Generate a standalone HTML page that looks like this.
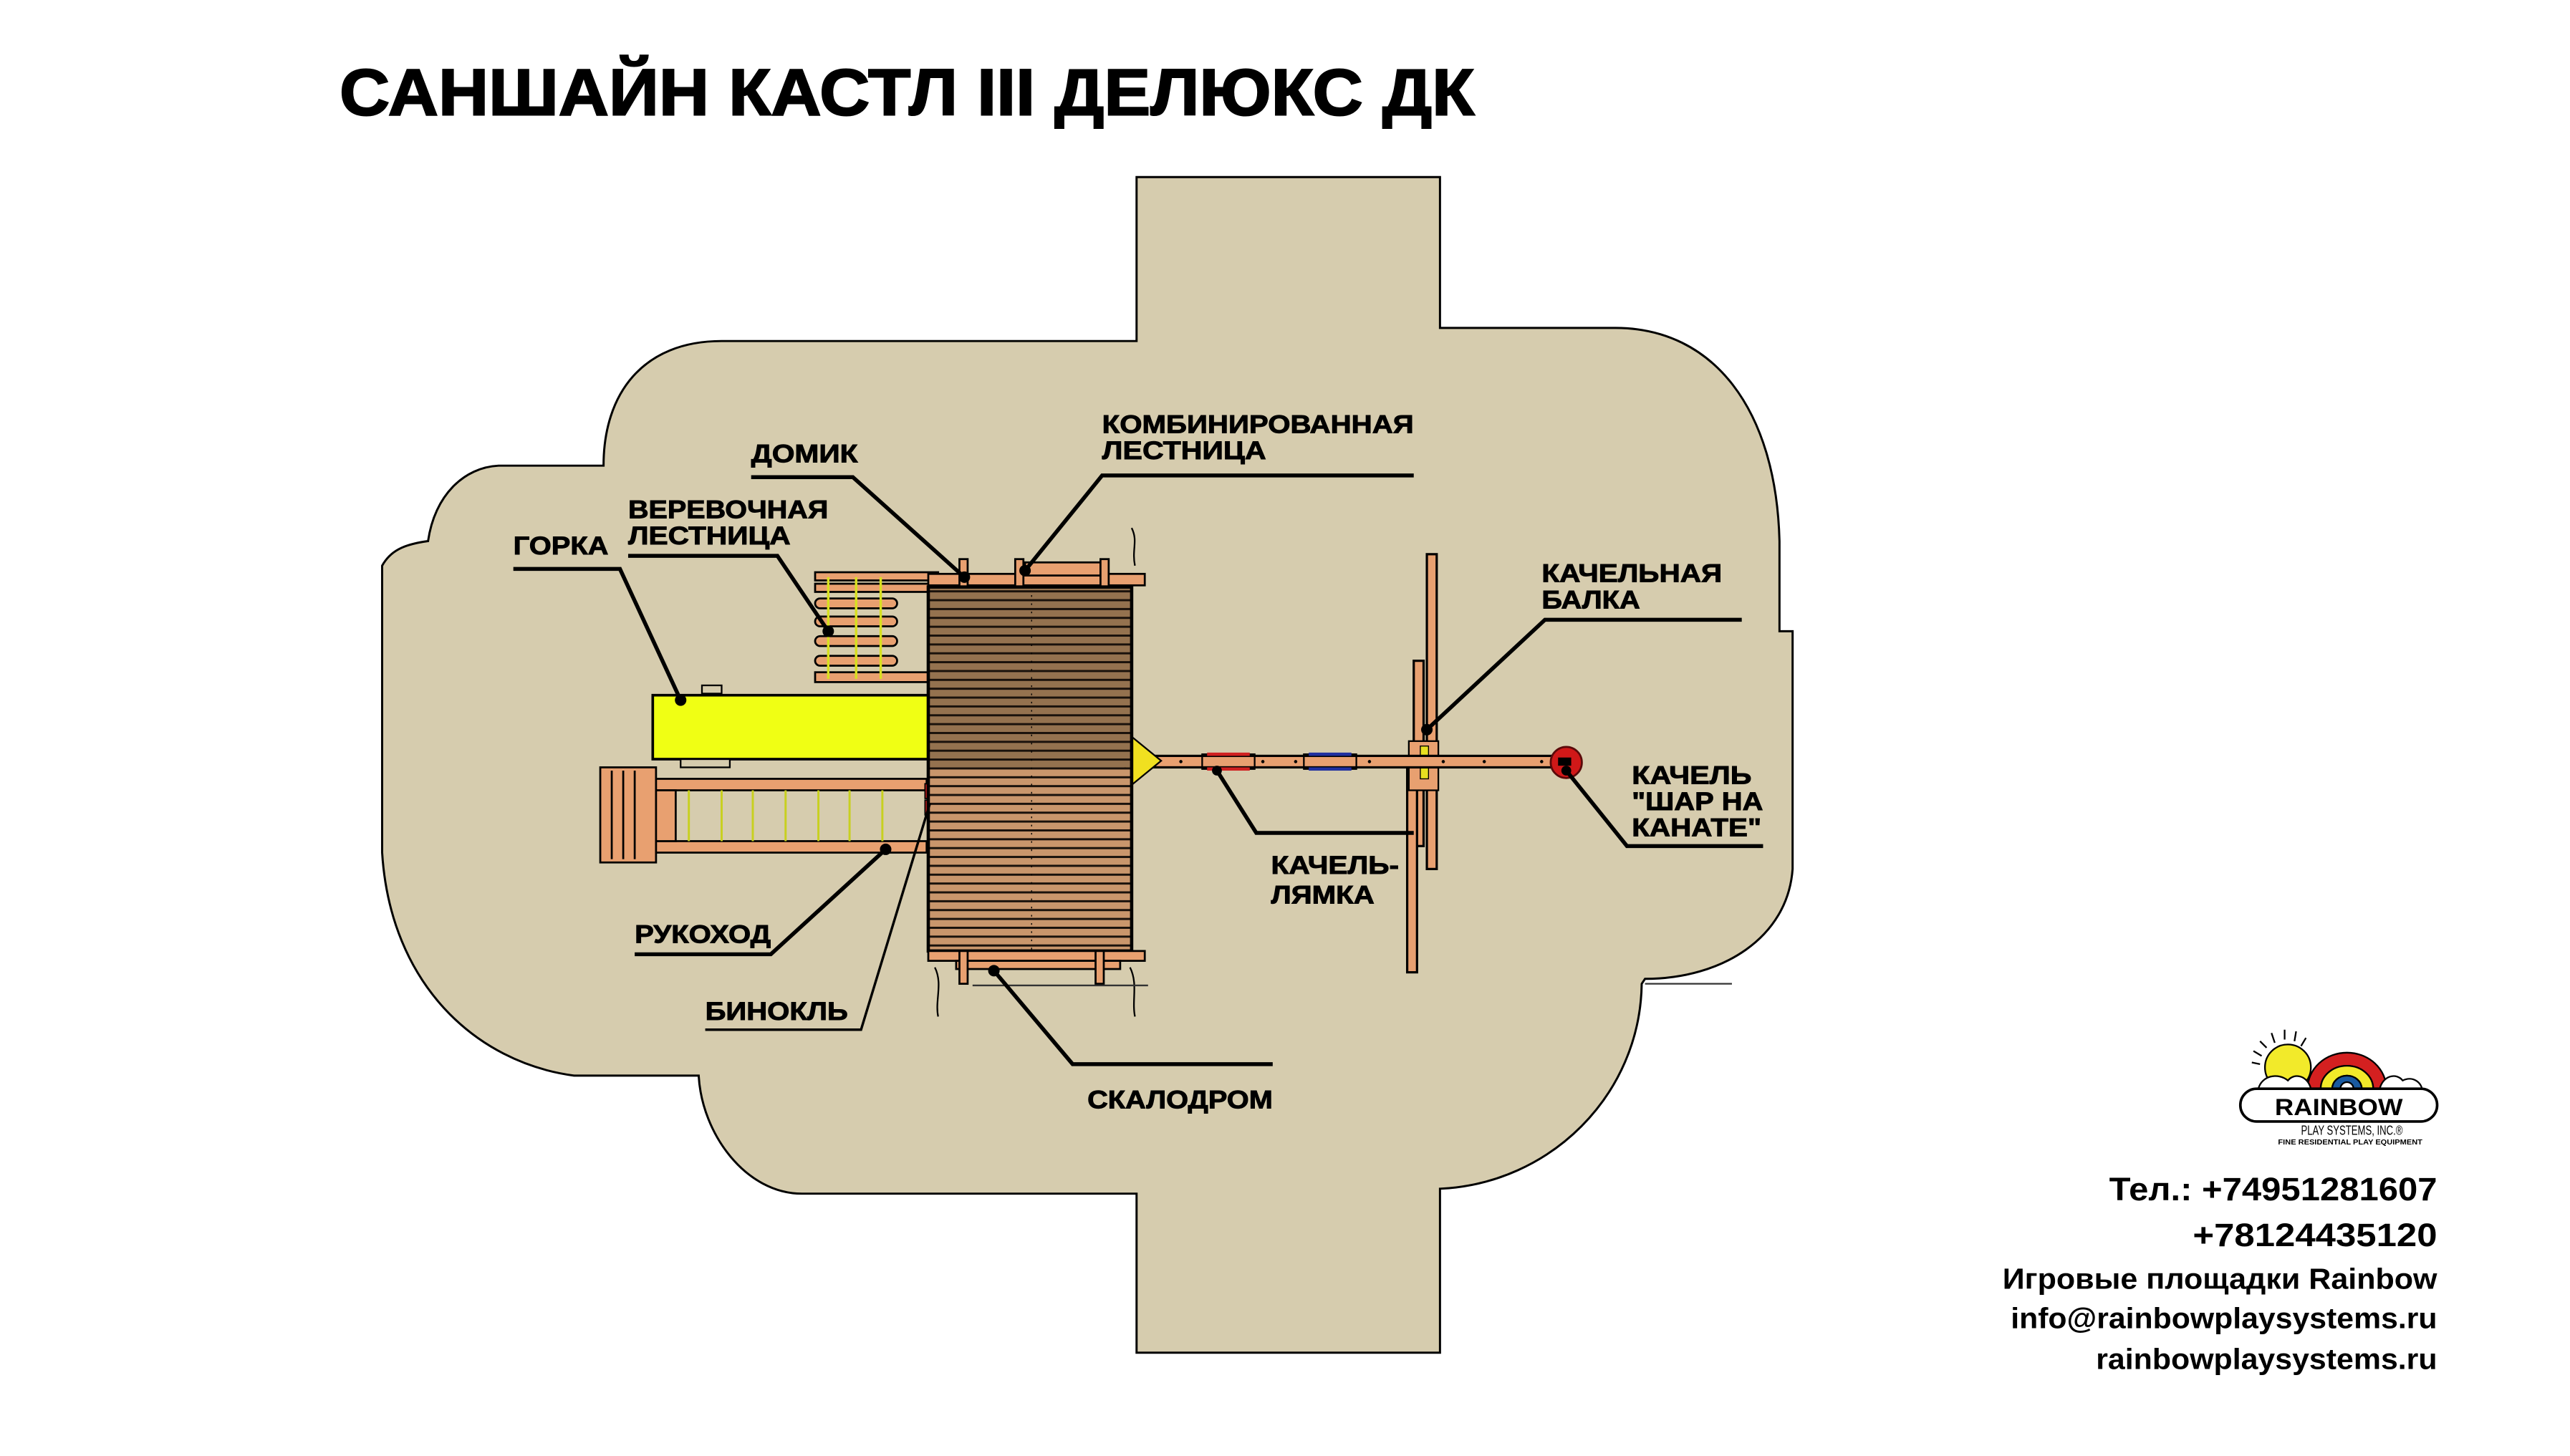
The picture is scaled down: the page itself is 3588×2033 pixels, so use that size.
<!DOCTYPE html>
<html><head><meta charset="utf-8">
<style>
html,body{margin:0;padding:0;background:#fff;}
svg{display:block;}
text{font-family:"Liberation Sans","DejaVu Sans",sans-serif;font-weight:bold;fill:#000;}
</style></head>
<body>
<svg width="3588" height="2033" viewBox="0 0 1567 888" preserveAspectRatio="none" xmlns="http://www.w3.org/2000/svg">
<defs>
<pattern id="pl1" patternUnits="userSpaceOnUse" x="0" y="360" width="10" height="5.4">
<rect width="10" height="5.4" fill="#94724f"/><rect width="10" height="1.3" fill="#1a120c"/>
</pattern>
<pattern id="pl2" patternUnits="userSpaceOnUse" x="0" y="468" width="10" height="5.4">
<rect width="10" height="5.4" fill="#c9966c"/><rect width="10" height="1.3" fill="#1a120c"/>
</pattern>
</defs>
<rect width="1567" height="888" fill="#fff"/>
<!-- ground -->
<path d="M693,108 L878,108 L878,200 L985,200 C1045,200 1083,250 1085,330 L1085,385 L1093,385 L1093,530 C1090,572 1050,597 1003,597 L1001,600 C1000,668 945,722 878,725 L878,825 L693,825 L693,728 L489,728 C455,728 428,692 426,656 L350,656 C290,648 238,600 233,520 L233,345 C238,336 246,332 261,330 C265,302 283,285 304,284 L368,284 C368,240 392,208 440,208 L693,208 Z" fill="#d6ccae" stroke="#000" stroke-width="1.3"/>
<line x1="1003" y1="600" x2="1056" y2="600" stroke="#333" stroke-width="1"/>

<!-- title -->
<text x="207" y="70" font-size="40" stroke="#000" stroke-width="0.9" textLength="692" lengthAdjust="spacingAndGlyphs">САНШАЙН КАСТЛ III ДЕЛЮКС ДК</text>

<!-- swing beam A-frame -->
<rect x="870" y="338" width="6" height="192" fill="#e8a070" stroke="#000" stroke-width="1.4"/>
<rect x="862" y="403" width="6" height="113" fill="#e8a070" stroke="#000" stroke-width="1.4"/>
<rect x="858" y="465" width="6" height="128" fill="#e8a070" stroke="#000" stroke-width="1.4"/>
<rect x="859" y="452" width="18" height="30" fill="#e8a070" stroke="#000" stroke-width="1"/>
<rect x="866" y="455" width="5" height="7" fill="#e8e020" stroke="#000" stroke-width="0.6"/>
<rect x="866" y="468" width="5" height="7" fill="#e8e020" stroke="#000" stroke-width="0.6"/>
<!-- swing beam horizontal -->
<rect x="693" y="461" width="262" height="7" fill="#e8a070" stroke="#000" stroke-width="1.4"/>
<g fill="#000"><circle cx="705" cy="464.5" r="1"/><circle cx="720" cy="464.5" r="1"/><circle cx="770" cy="464.5" r="1"/><circle cx="790" cy="464.5" r="1"/><circle cx="835" cy="464.5" r="1"/><circle cx="880" cy="464.5" r="1"/><circle cx="905" cy="464.5" r="1"/><circle cx="940" cy="464.5" r="1"/></g>
<!-- strap swing -->
<rect x="733" y="460" width="32" height="9" fill="none" stroke="#000" stroke-width="1"/>
<rect x="736" y="459" width="26" height="2" fill="#d02020"/><rect x="736" y="468" width="26" height="2" fill="#d02020"/>
<rect x="795" y="460" width="32" height="9" fill="none" stroke="#000" stroke-width="1"/>
<rect x="798" y="459" width="26" height="2" fill="#2030a0"/><rect x="798" y="468" width="26" height="2" fill="#2030a0"/>
<!-- ball swing -->
<circle cx="955" cy="465" r="9.5" fill="#d01818" stroke="#5a0a0a" stroke-width="1.2"/>
<rect x="950" y="462" width="8" height="5" fill="#000"/>
<!-- yellow triangle -->
<path d="M686,446 L708,464 L686,482 Z" fill="#f0e020" stroke="#000" stroke-width="1"/>

<!-- rope ladder -->
<g stroke="#000" stroke-width="1.2">
<rect x="497" y="349" width="75" height="5" fill="#e8a070"/>
<rect x="497" y="356" width="75" height="5" fill="#e8a070"/>
<rect x="497" y="365" width="50" height="6" rx="3" fill="#e8a070"/>
<rect x="497" y="376" width="50" height="6" rx="3" fill="#e8a070"/>
<rect x="497" y="388" width="50" height="6" rx="3" fill="#e8a070"/>
<rect x="497" y="400" width="50" height="6" rx="3" fill="#e8a070"/>
<rect x="497" y="410" width="70" height="6" fill="#e8a070"/>
</g>
<g stroke="#d8e020" stroke-width="1.5"><line x1="505" y1="352" x2="505" y2="414"/><line x1="522" y1="352" x2="522" y2="414"/><line x1="537" y1="352" x2="537" y2="414"/></g>

<!-- slide -->
<rect x="428" y="418" width="12" height="5" fill="#d6ccae" stroke="#000" stroke-width="1"/>
<rect x="398" y="424" width="170" height="39" fill="#f0ff14" stroke="#000" stroke-width="1.6"/>
<rect x="415" y="463" width="30" height="5" fill="#d6ccae" stroke="#000" stroke-width="1"/>

<!-- monkey bars -->
<g stroke="#000" stroke-width="1.2">
<rect x="366" y="468" width="34" height="58" fill="#e8a070"/>
<line x1="373" y1="470" x2="373" y2="524"/><line x1="380" y1="470" x2="380" y2="524"/><line x1="387" y1="470" x2="387" y2="524"/>
<rect x="400" y="475" width="165" height="7" fill="#e8a070"/>
<rect x="400" y="513" width="165" height="7" fill="#e8a070"/>
<rect x="400" y="482" width="12" height="31" fill="#e8a070"/>
</g>
<g stroke="#c8d020" stroke-width="1.3"><line x1="420" y1="482" x2="420" y2="513"/><line x1="440" y1="482" x2="440" y2="513"/><line x1="459" y1="482" x2="459" y2="513"/><line x1="479" y1="482" x2="479" y2="513"/><line x1="499" y1="482" x2="499" y2="513"/><line x1="518" y1="482" x2="518" y2="513"/><line x1="538" y1="482" x2="538" y2="513"/></g>
<!-- binoculars -->
<rect x="564" y="478" width="8" height="9" fill="#d02020" stroke="#000" stroke-width="0.8"/>
<rect x="564" y="488" width="8" height="9" fill="#d02020" stroke="#000" stroke-width="0.8"/>

<!-- top frame -->
<g stroke="#000" stroke-width="1.2">
<rect x="566" y="350" width="132" height="7" fill="#e8a070"/>
<rect x="625" y="343" width="46" height="8" fill="#e8a070"/>
<rect x="585" y="341" width="5" height="18" fill="#e8a070"/>
<rect x="619" y="341" width="5" height="18" fill="#e8a070"/>
<rect x="671" y="341" width="5" height="18" fill="#e8a070"/>
</g>
<!-- deck -->
<rect x="566" y="358" width="124" height="110" fill="url(#pl1)"/>
<rect x="566" y="468" width="124" height="112" fill="url(#pl2)"/>
<rect x="566" y="358" width="124" height="222" fill="none" stroke="#000" stroke-width="2"/>
<line x1="629" y1="358" x2="629" y2="580" stroke="#000" stroke-width="0.6" stroke-dasharray="1,4"/>
<!-- bottom frame -->
<g stroke="#000" stroke-width="1.2">
<rect x="566" y="580" width="132" height="6" fill="#e8a070"/>
<rect x="583" y="586" width="100" height="5" fill="#e8a070"/>
<rect x="585" y="580" width="5" height="20" fill="#e8a070"/>
<rect x="668" y="580" width="5" height="20" fill="#e8a070"/>
</g>
<g stroke="#000" stroke-width="1" fill="none">
<path d="M570,590 C575,600 570,610 572,620"/><path d="M689,590 C694,600 690,610 692,620"/>
<path d="M692,345 C690,335 694,330 690,322"/>
</g>
<line x1="593" y1="601" x2="700" y2="601" stroke="#333" stroke-width="1"/>

<!-- leaders -->
<g stroke="#000" stroke-width="2.4" fill="none">
<polyline points="313,347 378,347 415,427"/>
<polyline points="383,339 474,339 505,385"/>
<polyline points="458,291 520,291 588,352"/>
<polyline points="862,290 672,290 625,348"/>
<polyline points="1062,378 942,378 870,445"/>
<polyline points="955,470 992,516 1075,516"/>
<polyline points="742,470 766,508 862,508"/>
<polyline points="387,582 470,582 540,518"/>
<polyline points="606,592 654,649 776,649"/>
</g>
<polyline points="430,628 525,628 567,490" stroke="#000" stroke-width="1.5" fill="none"/>
<g fill="#000">
<circle cx="415" cy="427" r="3.5"/><circle cx="505" cy="385" r="3.5"/><circle cx="588" cy="352" r="3.5"/><circle cx="625" cy="348" r="3.5"/><circle cx="870" cy="445" r="3.5"/><circle cx="955" cy="470" r="3"/><circle cx="742" cy="470" r="3"/><circle cx="540" cy="518" r="3.5"/><circle cx="606" cy="592" r="3.5"/>
</g>

<!-- labels -->
<g font-size="15.5" stroke="#000" stroke-width="0.4">
<text x="313" y="338" textLength="58" lengthAdjust="spacingAndGlyphs">ГОРКА</text>
<text x="383" y="316" textLength="122" lengthAdjust="spacingAndGlyphs">ВЕРЕВОЧНАЯ</text>
<text x="383" y="332" textLength="99" lengthAdjust="spacingAndGlyphs">ЛЕСТНИЦА</text>
<text x="458" y="282" textLength="65" lengthAdjust="spacingAndGlyphs">ДОМИК</text>
<text x="672" y="264" textLength="190" lengthAdjust="spacingAndGlyphs">КОМБИНИРОВАННАЯ</text>
<text x="672" y="280" textLength="100" lengthAdjust="spacingAndGlyphs">ЛЕСТНИЦА</text>
<text x="940" y="355" textLength="110" lengthAdjust="spacingAndGlyphs">КАЧЕЛЬНАЯ</text>
<text x="940" y="371" textLength="60" lengthAdjust="spacingAndGlyphs">БАЛКА</text>
<text x="995" y="478" textLength="73" lengthAdjust="spacingAndGlyphs">КАЧЕЛЬ</text>
<text x="995" y="494" textLength="80" lengthAdjust="spacingAndGlyphs">"ШАР НА</text>
<text x="995" y="510" textLength="79" lengthAdjust="spacingAndGlyphs">КАНАТЕ"</text>
<text x="775" y="533" textLength="78" lengthAdjust="spacingAndGlyphs">КАЧЕЛЬ-</text>
<text x="775" y="551" textLength="63" lengthAdjust="spacingAndGlyphs">ЛЯМКА</text>
<text x="387" y="575" textLength="83" lengthAdjust="spacingAndGlyphs">РУКОХОД</text>
<text x="430" y="622" textLength="87" lengthAdjust="spacingAndGlyphs">БИНОКЛЬ</text>
<text x="663" y="676" textLength="113" lengthAdjust="spacingAndGlyphs">СКАЛОДРОМ</text>
</g>

<!-- logo -->
<g transform="translate(1365,626)">
<g stroke="#000" stroke-width="1">
<line x1="28" y1="2" x2="28" y2="8"/><line x1="20" y1="4" x2="22" y2="10"/><line x1="35" y1="3" x2="34" y2="9"/><line x1="13" y1="9" x2="17" y2="13"/><line x1="9" y1="15" x2="14" y2="18"/><line x1="8" y1="22" x2="13" y2="23"/><line x1="41" y1="7" x2="38" y2="12"/>
</g>
<circle cx="30" cy="25" r="14" fill="#f2ea2a" stroke="#000" stroke-width="1"/>
<path d="M42,38 A24,22 0 0 1 90,38 L82,38 A16,14 0 0 0 50,38 Z" fill="#d42020" stroke="#000" stroke-width="1"/>
<path d="M50,38 A16,14 0 0 1 82,38 L75,38 A9,8 0 0 0 57,38 Z" fill="#f2ea2a" stroke="#000" stroke-width="1"/>
<path d="M57,38 A9,8 0 0 1 75,38 L70,38 A4,4 0 0 0 62,38 Z" fill="#1a5aa0" stroke="#000" stroke-width="1"/>
<path d="M12,38 C14,30 24,28 30,33 C34,28 42,30 44,38 Z" fill="#fff" stroke="#000" stroke-width="1"/>
<path d="M86,38 C88,30 96,28 100,33 C106,30 112,34 112,40 Z" fill="#fff" stroke="#000" stroke-width="1"/>
<rect x="1" y="38" width="120" height="20" rx="10" fill="#fff" stroke="#000" stroke-width="1.6"/>
<text x="61" y="54" font-size="14" text-anchor="middle" textLength="78" lengthAdjust="spacingAndGlyphs">RAINBOW</text>
<text x="38" y="66" font-size="8" textLength="62" lengthAdjust="spacingAndGlyphs" style="font-weight:normal">PLAY SYSTEMS, INC.®</text>
<text x="24" y="72" font-size="4.5" textLength="88" lengthAdjust="spacingAndGlyphs">FINE RESIDENTIAL PLAY EQUIPMENT</text>
</g>

<!-- contacts -->
<g text-anchor="end">
<text x="1486" y="732" font-size="20" textLength="200" lengthAdjust="spacingAndGlyphs">Тел.: +74951281607</text>
<text x="1486" y="760" font-size="20" textLength="149" lengthAdjust="spacingAndGlyphs">+78124435120</text>
<text x="1486" y="786" font-size="18" textLength="265" lengthAdjust="spacingAndGlyphs">Игровые площадки Rainbow</text>
<text x="1486" y="810" font-size="18" textLength="260" lengthAdjust="spacingAndGlyphs">info@rainbowplaysystems.ru</text>
<text x="1486" y="835" font-size="18" textLength="208" lengthAdjust="spacingAndGlyphs">rainbowplaysystems.ru</text>
</g>
</svg>
</body></html>
